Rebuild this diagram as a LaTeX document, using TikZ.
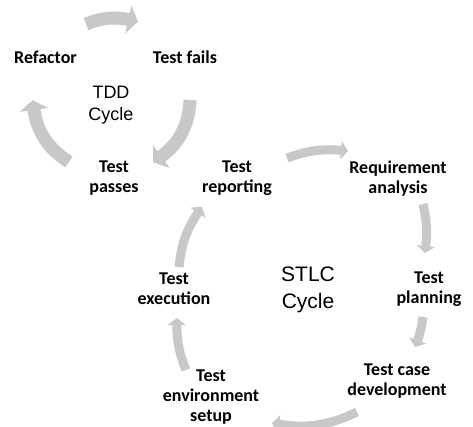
\documentclass[tikz,border=0pt]{standalone}
\usepackage{fontspec}
\setmainfont{Carlito}
\newfontfamily\headfont{Liberation Sans}
\usetikzlibrary{arrows.meta,bending}
\definecolor{cyclegray}{RGB}{200,200,200}
\begin{document}
\begin{tikzpicture}[x=1pt,y=1pt,
  phase/.style={font=\bfseries\fontsize{18}{20}\selectfont, align=center, inner sep=0pt},
  tddhead/.style={font=\headfont\fontsize{18}{22}\selectfont, align=center, inner sep=0pt},
  stlchead/.style={font=\headfont\fontsize{21}{27}\selectfont, align=center, inner sep=0pt},
  bigarrow/.style={draw=cyclegray, line width=13pt, -{Triangle[width=28pt,length=10pt,bend]}},
  smallarrow/.style={draw=cyclegray, line width=9pt, -{Triangle[width=18pt,length=7pt,bend]}}]
\clip (0,0) rectangle (473,426);

% TDD cycle labels
\node[phase] (refactor) at (45.5,368.5) {Refactor};
\node[phase] (fails) at (185,368.5) {Test fails};
\node[phase] (passes) at (114,247.5) {Test\\passes};
\node[tddhead] (tdd) at (111,321) {TDD\\Cycle};

% STLC cycle labels
\node[phase] (report) at (237,247.5) {Test\\reporting};
\node[phase] (reqan) at (398,247) {Requirement\\analysis};
\node[phase] (plan) at (429,136.5) {Test\\planning};
\node[phase] (casedev) at (397,45) {Test case\\development};
\node[phase] (envsetup) at (211,29) {Test\\environment\\setup};
\node[phase] (exec) at (174,137.5) {Test\\execution};
\node[stlchead] (stlc) at (308,136) {STLC\\Cycle};

% TDD arrow ends
\coordinate (ta1) at (86,402);  \coordinate (tb1) at (138,404);
\coordinate (ta2) at (190,326); \coordinate (tb2) at (153,264);
\coordinate (ta3) at (69,264);  \coordinate (tb3) at (33,326);

% STLC arrow ends
\coordinate (sa1) at (287,268); \coordinate (sb1) at (348,275);
\coordinate (sa2) at (423,222); \coordinate (sb2) at (425,173);
\coordinate (sa3) at (423,109); \coordinate (sb3) at (415,79);
\coordinate (sa4) at (357,14);  \coordinate (sb4) at (272,3);
\coordinate (sa5) at (186,56);  \coordinate (sb5) at (177,108);
\coordinate (sa6) at (179,159); \coordinate (sb6) at (202,219);

% TDD arrows
\draw[bigarrow] (ta1) to[bend left=19] (tb1);
\draw[bigarrow] (ta2) to[bend left=28] (tb2);
\draw[bigarrow] (ta3) to[bend left=27] (tb3);

% STLC arrows
\draw[smallarrow] (sa1) to[bend left=13] (sb1);
\draw[smallarrow] (sa2) to[bend left=10] (sb2);
\draw[smallarrow] (sa3) to[bend left=7] (sb3);
\draw[smallarrow] (sa4) to[bend left=18] (sb4);
\draw[smallarrow] (sa5) to[bend left=12] (sb5);
\draw[smallarrow] (sa6) to[bend left=15] (sb6);
\end{tikzpicture}
\end{document}
